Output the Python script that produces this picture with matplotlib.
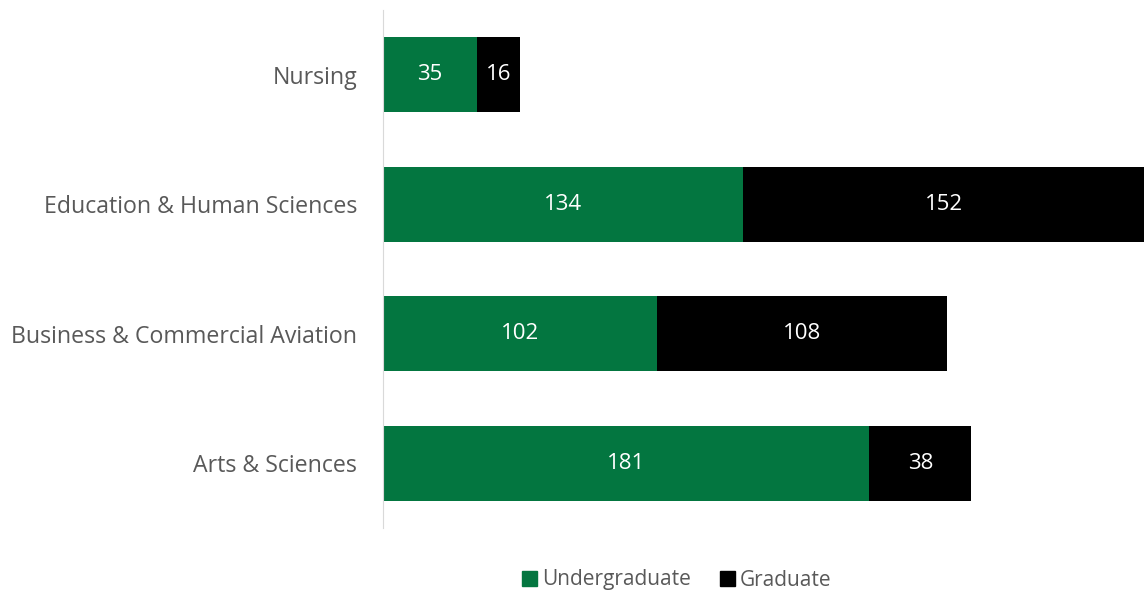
import matplotlib
matplotlib.use("Agg")
import matplotlib.pyplot as plt
from matplotlib.patches import Patch

categories = ["Arts & Sciences", "Business & Commercial Aviation", "Education & Human Sciences", "Nursing"]
undergrad = [181, 102, 134, 35]
graduate = [38, 108, 152, 16]

plt.rcParams['font.family'] = ['Open Sans', 'DejaVu Sans']

green = "#037640"
fig = plt.figure(figsize=(11.44, 5.92), dpi=100)
ax = fig.add_axes([383/1144, 1-528/592, 1-383/1144, (528-10)/592])

y = range(len(categories))
b1 = ax.barh(y, undergrad, height=0.58, color=green)
b2 = ax.barh(y, graduate, left=undergrad, height=0.58, color="black")
for bars in (b1, b2):
    ax.bar_label(bars, label_type='center', color='white', fontsize=16)

ax.set_xlim(0, 283.2)
ax.set_ylim(-0.5, 3.5)
ax.set_yticks(list(y))
ax.set_yticklabels(categories, fontsize=16.7, color="#595959")
ax.tick_params(axis='y', length=0, pad=18.5)
ax.set_xticks([])
for s in ["top", "right", "bottom"]:
    ax.spines[s].set_visible(False)
ax.spines["left"].set_color("#d9d9d9")

handles = [Patch(color=green, label="Undergraduate"), Patch(color="black", label="Graduate")]
fig.legend(handles=handles, loc="center", bbox_to_anchor=(677/1144, 1-580/592), ncol=2,
           frameon=False, fontsize=15, labelcolor="#595959", handlelength=0.7, handleheight=0.7,
           handletextpad=0.25, columnspacing=1.4)

fig.savefig("out.png", dpi=100)
